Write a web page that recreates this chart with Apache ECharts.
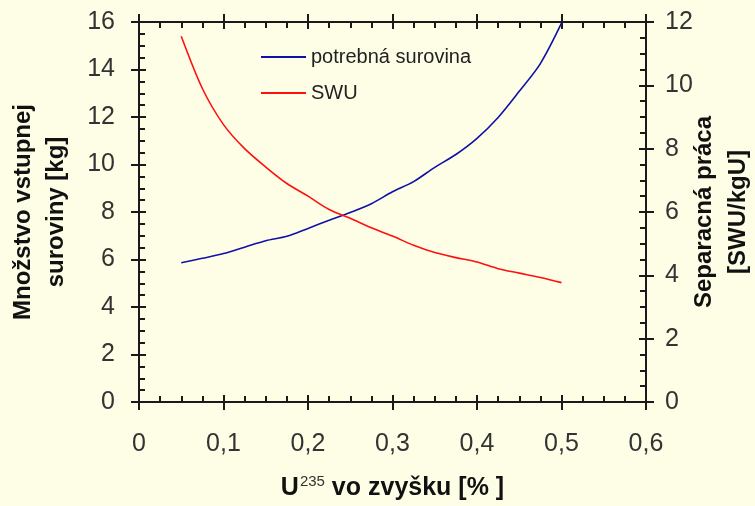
<!DOCTYPE html>
<html>
<head>
<meta charset="utf-8">
<script src="https://cdn.jsdelivr.net/npm/echarts@6/dist/echarts.min.js"></script>
<style>
html,body{margin:0;padding:0;background:#fefee6;}
#c{width:755px;height:506px;}
</style>
</head>
<body>
<div id="c"></div>
<script>
// ---- data ----
var xValues = [0.05,0.075,0.1,0.125,0.15,0.175,0.2,0.225,0.25,0.275,0.3,0.325,0.35,0.375,0.4,0.425,0.45,0.475,0.5];
var feedValues = [5.86,6.05,6.25,6.52,6.79,6.98,7.31,7.65,7.98,8.35,8.85,9.28,9.88,10.42,11.10,11.98,13.08,14.25,15.95];
var swuValues = [11.55,9.90,8.76,8.00,7.42,6.90,6.50,6.08,5.80,5.50,5.24,4.95,4.72,4.56,4.42,4.21,4.07,3.93,3.77];
var xTickLabels = ['0','0,1','0,2','0,3','0,4','0,5','0,6'];
var leftTickLabels = ['0','2','4','6','8','10','12','14','16'];
var rightTickLabels = ['0','2','4','6','8','10','12'];
var seriesNames = ['potrebná surovina','SWU'];

var tickFont = "'Liberation Sans Narrow','Arial Narrow','Liberation Sans',sans-serif";
var boldFont = "'Liberation Sans',Arial,sans-serif";
var axisCol = '#1a1a1a';

function pair(data) { return data.map(function(v,i){ return [xValues[i], v]; }); }

function baseAxis(extra) {
  var o = {
    axisLine: {show: true, onZero: false, lineStyle: {color: axisCol, width: 2}},
    splitLine: {show: false},
    axisLabel: {show: false},
    axisTick: {show: true, inside: true, length: 7, lineStyle: {color: axisCol, width: 2}},
    minorTick: {show: true, splitNumber: 4, length: 6, lineStyle: {color: axisCol, width: 2}}
  };
  for (var k in extra) o[k] = extra[k];
  return o;
}
function outerAxis(extra, labels, margin) {
  var o = {
    nameMoveOverlap: false,
    axisLine: {show: true, onZero: false, lineStyle: {color: axisCol, width: 2}},
    splitLine: {show: false},
    axisTick: {show: true, inside: false, length: 8, lineStyle: {color: axisCol, width: 2}},
    minorTick: {show: false},
    axisLabel: labels ? {
      show: true, margin: margin, fontFamily: tickFont, fontSize: 25, color: '#333',
      formatter: function(v){ return labels[Math.round(v / extra.interval)]; }
    } : {show: false}
  };
  for (var k in extra) o[k] = extra[k];
  return o;
}

var xCommon = {type: 'value', min: 0, max: 0.6, interval: 0.1};
var yLCommon = {type: 'value', min: 0, max: 16, interval: 2};
var yRCommon = {type: 'value', min: 0, max: 12, interval: 2};

function ext(a, b){ var o={}; for (var k in a) o[k]=a[k]; for (var k2 in b) o[k2]=b[k2]; return o; }

var chart = echarts.init(document.getElementById('c'), null, {renderer: 'canvas'});
chart.setOption({
  backgroundColor: '#fefee6',
  animation: false,
  grid: {left: 139, right: 109, top: 22, bottom: 104, containLabel: false, outerBoundsMode: 'none'},
  legend: {
    show: true, orient: 'vertical', left: 256, top: 42, itemGap: 16,
    itemWidth: 45, itemHeight: 20, icon: 'path://M0,9 L45,9 L45,11 L0,11 Z',
    textStyle: {fontFamily: boldFont, fontSize: 20, color: '#222', padding: [0,0,0,0]},
    data: seriesNames
  },
  xAxis: [
    outerAxis(ext(xCommon, {position: 'bottom',
      name: '{u|U}{s|235}{t| vo zvyšku [% ]}', nameLocation: 'middle', nameGap: 72,
      nameTextStyle: {rich: {
        u: {fontFamily: boldFont, fontSize: 25, fontWeight: 'bold', color: '#111', lineHeight: 28},
        s: {fontFamily: tickFont, fontSize: 15, color: '#333', verticalAlign: 'top', lineHeight: 28, padding: [0,0,14,1]},
        t: {fontFamily: boldFont, fontSize: 25, fontWeight: 'bold', color: '#111', lineHeight: 28}
      }}}), xTickLabels, 30),
    baseAxis(ext(xCommon, {position: 'bottom'})),
    outerAxis(ext(xCommon, {position: 'top'}), null, 0),
    baseAxis(ext(xCommon, {position: 'top'}))
  ],
  yAxis: [
    outerAxis(ext(yLCommon, {position: 'left',
      name: 'Množstvo vstupnej\nsuroviny [kg]', nameLocation: 'middle', nameGap: 66,
      nameTextStyle: {fontFamily: boldFont, fontSize: 24, fontWeight: 'bold', color: '#111', lineHeight: 33}}),
      leftTickLabels, 24),
    baseAxis(ext(yLCommon, {position: 'left'})),
    outerAxis(ext(yRCommon, {position: 'right',
      name: 'Separacná práca\n[SWU/kgU]', nameLocation: 'middle', nameGap: 41,
      nameTextStyle: {fontFamily: boldFont, fontSize: 24, fontWeight: 'bold', color: '#111', lineHeight: 34}}),
      rightTickLabels, 19),
    baseAxis(ext(yRCommon, {position: 'right'}))
  ],
  series: [
    {name: seriesNames[0], type: 'line', xAxisIndex: 0, yAxisIndex: 0, data: pair(feedValues),
     showSymbol: false, smooth: 0.3, lineStyle: {color: '#1010a8', width: 1.6}, itemStyle: {color: '#1010a8'}},
    {name: seriesNames[1], type: 'line', xAxisIndex: 0, yAxisIndex: 2, data: pair(swuValues),
     showSymbol: false, smooth: 0.3, lineStyle: {color: '#ff1010', width: 1.6}, itemStyle: {color: '#ff1010'}}
  ]
});
</script>
</body>
</html>
